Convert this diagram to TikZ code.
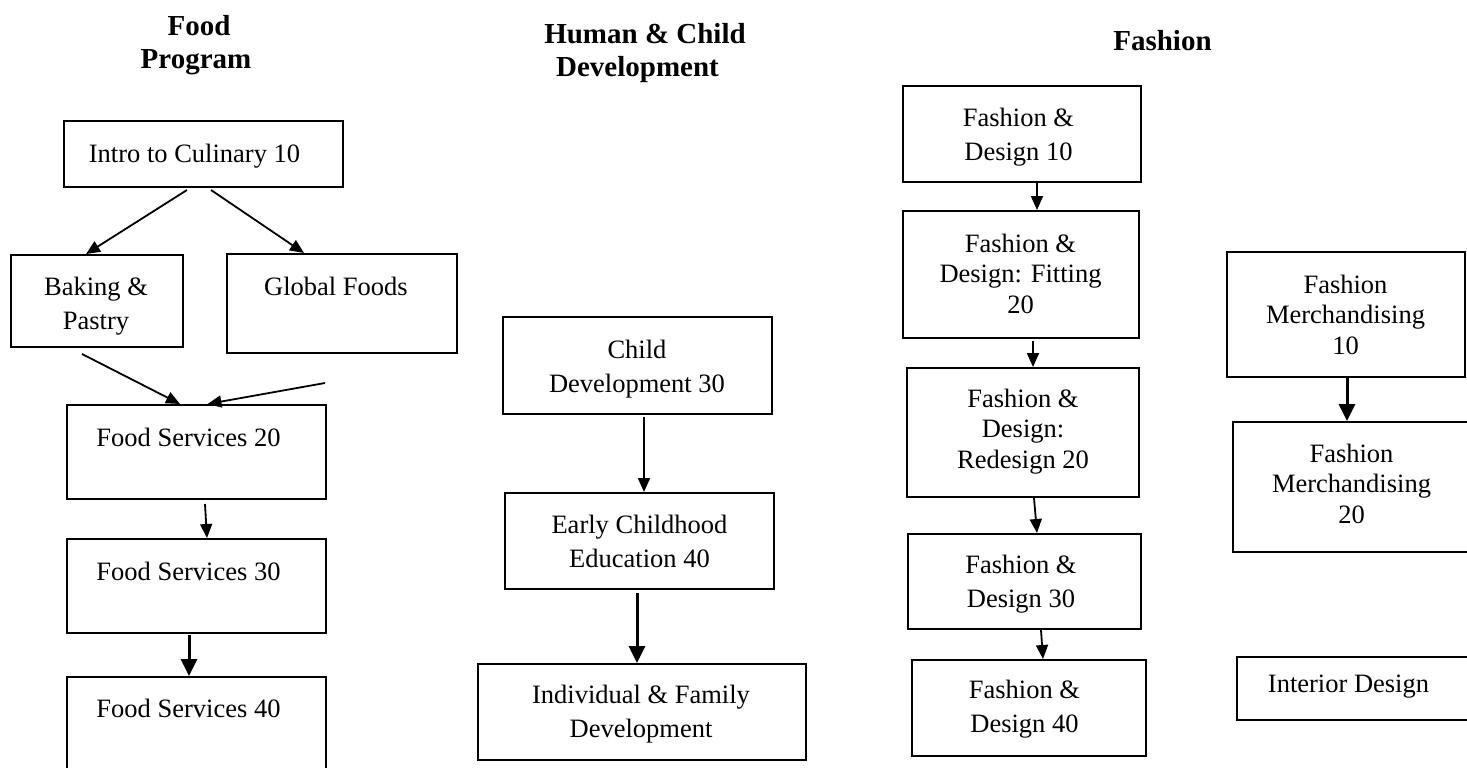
\documentclass[tikz,border=0pt]{standalone}
\usepackage{fontspec}
\setmainfont{Liberation Serif}
\usetikzlibrary{arrows.meta,calc}
\tikzset{
  box/.style={draw=black, line width=2pt, inner sep=0pt, rectangle},
  txt/.style={font=\fontsize{26.5}{34}\selectfont, align=center, inner sep=0pt},
  txtthree/.style={font=\fontsize{26.5}{30.5}\selectfont, align=center, inner sep=0pt},
  title/.style={font=\fontsize{29}{33}\selectfont\bfseries, align=center, inner sep=0pt},
  arr/.style={-{Triangle[length=14pt,width=12pt]}, line width=1.8pt},
  arrthick/.style={-{Triangle[length=17pt,width=16pt]}, line width=3pt}
}
\begin{document}
\begin{tikzpicture}[x=1pt,y=-1pt]
\useasboundingbox (0,0) rectangle (1467,768);
\clip (0,0) rectangle (1467,768);
\fill[white] (0,0) rectangle (1467,768);

% titles
\node[title] (tfood) at (196,44.9) {\kern6pt Food\\Program};
\node[title] (thuman) at (645,52.9) {Human \& Child\\Development\kern15pt};
\node[title] (tfashion) at (1162.5,40.2) {Fashion};

% Food program boxes
\node[box, minimum width=279pt, minimum height=66pt] (intro) at (203.5,154) {};
\node[txt] (tintro) at (194.5,156) {Intro to Culinary 10};
\node[box, minimum width=172pt, minimum height=92pt] (baking) at (97,301) {};
\node[txt] (tbaking) at (96,305.9) {Baking \&\\Pastry};
\node[box, minimum width=230pt, minimum height=99pt] (global) at (342,303.5) {};
\node[txt] (tglobal) at (336,286) {Global Foods};
\node[box, minimum width=259pt, minimum height=94pt] (fs20) at (196.5,452) {};
\node[txt] (tfs20) at (188.5,437) {Food Services 20};
\node[box, minimum width=259pt, minimum height=94pt] (fs30) at (196.5,586) {};
\node[txt] (tfs30) at (188.5,571) {Food Services 30};
\node[box, minimum width=259pt, minimum height=94pt] (fs40) at (196.5,724) {};
\node[txt] (tfs40) at (188.5,708) {Food Services 40};

% Human & child development
\node[box, minimum width=269pt, minimum height=97pt] (child) at (637.5,365.5) {};
\node[txt] (tchild) at (637,368.9) {Child\\Development 30};
\node[box, minimum width=269pt, minimum height=96pt] (early) at (639.5,541) {};
\node[txt] (tearly) at (639.5,541) {Early Childhood\\Education 40};
\node[box, minimum width=328pt, minimum height=96pt] (indiv) at (642,712) {};
\node[txt] (tindiv) at (641,713.9) {Individual \& Family\\Development};

% Fashion
\node[box, minimum width=238pt, minimum height=96pt] (fd10) at (1022,134) {};
\node[txt] (tfd10) at (1018.5,136.9) {Fashion \&\\Design 10};
\node[box, minimum width=236pt, minimum height=127pt] (fd20) at (1021,274.5) {};
\node[txtthree] (tfd20) at (1020.5,273.5) {Fashion \&\\Design: Fitting\\20};
\node[box, minimum width=232pt, minimum height=129pt] (fdre) at (1023,432.5) {};
\node[txtthree] (tfdre) at (1023,431.4) {Fashion \&\\Design:\\Redesign 20};
\node[box, minimum width=233pt, minimum height=95pt] (fd30) at (1024.5,581.5) {};
\node[txt] (tfd30) at (1021,583.9) {Fashion \&\\Design 30};
\node[box, minimum width=234pt, minimum height=96pt] (fd40) at (1029,708) {};
\node[txt] (tfd40) at (1024.5,708.9) {Fashion \&\\Design 40};
\node[box, minimum width=238pt, minimum height=125pt] (fm10) at (1346,314.5) {};
\node[txtthree] (tfm10) at (1345.5,314.5) {Fashion\\Merchandising\\10};
\node[box, minimum width=237pt, minimum height=130pt] (fm20) at (1351.5,487) {};
\node[txtthree] (tfm20) at (1351.5,483.5) {Fashion\\Merchandising\\20};
\node[box, minimum width=233pt, minimum height=63pt] (interior) at (1353.5,688.5) {};
\node[txt] (tinterior) at (1348.5,686.9) {Interior Design};

% connectors
\coordinate (gfree) at (325,383);
\draw[arr] ([xshift=-16.5pt,yshift=-2pt]intro.south) -- ([xshift=-11pt]baking.north);
\draw[arr] ([xshift=7.5pt,yshift=-2pt]intro.south) -- ([xshift=-38pt]global.north);
\draw[arr] ([xshift=-15pt,yshift=-6pt]baking.south) -- ([xshift=-16.5pt]fs20.north);
\draw[arr] (gfree) -- ([xshift=11pt]fs20.north);
\draw[arr] ([xshift=8.5pt,yshift=-4pt]fs20.south) -- ([xshift=10.5pt]fs30.north);
\draw[arrthick] ([xshift=-7.5pt,yshift=-1pt]fs30.south) -- ([xshift=-7.5pt]fs40.north);
\draw[arr] ([xshift=6.5pt,yshift=-2pt]child.south) -- ([xshift=4.5pt]early.north);
\draw[arrthick] ([xshift=-2.5pt,yshift=-3pt]early.south) -- ([xshift=-5pt]indiv.north);
\draw[arr] ([xshift=15pt]fd10.south) -- ([xshift=16pt]fd20.north);
\draw[arr] ([xshift=12pt,yshift=-2pt]fd20.south) -- ([xshift=10pt]fdre.north);
\draw[arr] ([xshift=11pt]fdre.south) -- ([xshift=12.5pt]fd30.north);
\draw[arr] ([xshift=16.5pt]fd30.south) -- ([xshift=14pt]fd40.north);
\draw[arrthick] ([xshift=1pt]fm10.south) -- ([xshift=-4.5pt]fm20.north);
\end{tikzpicture}
\end{document}
